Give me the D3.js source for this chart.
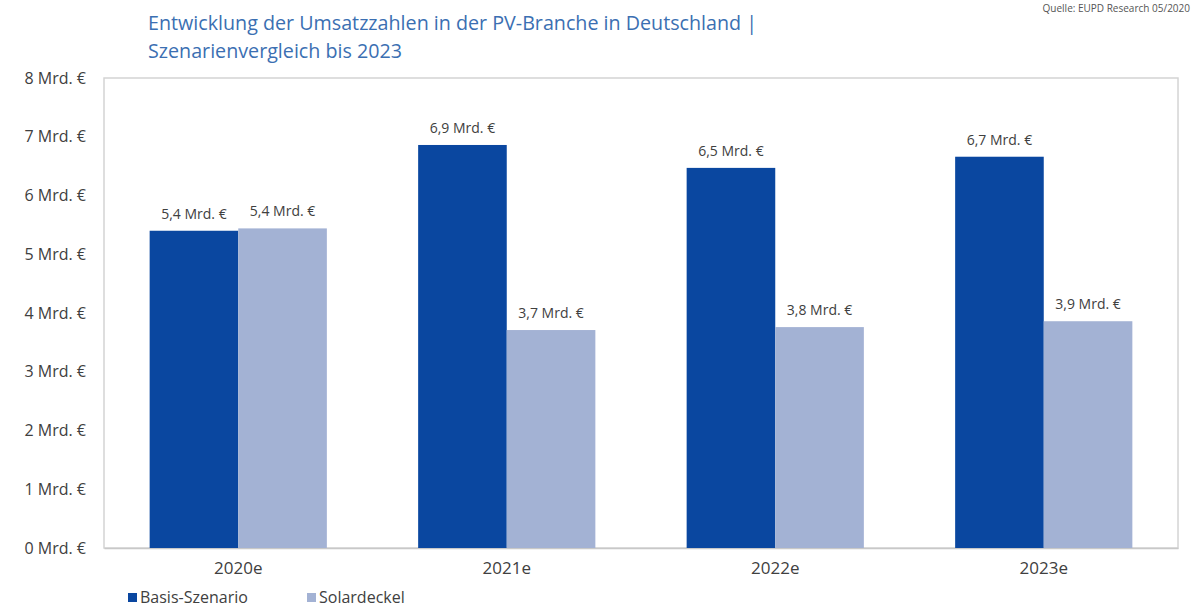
<!DOCTYPE html>
<html>
<head>
<meta charset="utf-8">
<script src="https://d3js.org/d3.v7.min.js"></script>
<style>
  body { margin: 0; background: #fff; }
  svg { display: block; font-family: "Open Sans", sans-serif; }
</style>
</head>
<body>
<div id="chart"></div>
<script>
// data
const years = ["2020e", "2021e", "2022e", "2023e"];
const seriesNames = ["Basis-Szenario", "Solardeckel"];
const basis = [5.40, 6.86, 6.47, 6.66];
const solardeckel = [5.44, 3.71, 3.76, 3.86];
const yTicks = [0, 1, 2, 3, 4, 5, 6, 7, 8];
const colors = ["#0a47a0", "#a3b2d4"];

const W = 1198, H = 614;
const margin = {top: 78, right: 20, bottom: 66, left: 104};

const svg = d3.select("#chart")
    .append("svg")
    .attr("width", W)
    .attr("height", H);

const x0 = d3.scaleBand()
    .domain(years)
    .range([margin.left, W - margin.right])
    .paddingInner(0.34)
    .paddingOuter(0.17);

const x1 = d3.scaleBand()
    .domain(seriesNames)
    .range([0, x0.bandwidth()]);

const y = d3.scaleLinear()
    .domain([0, 8])
    .range([H - margin.bottom, margin.top]);

// plot frame
svg.append("rect")
    .attr("x", margin.left)
    .attr("y", margin.top)
    .attr("width", W - margin.right - margin.left)
    .attr("height", H - margin.bottom - margin.top)
    .attr("fill", "none")
    .attr("stroke", "#d4d4d4")
    .attr("stroke-width", 1.5);

// y axis labels
const yAxis = svg.append("g")
    .attr("transform", `translate(${margin.left},0)`)
    .call(d3.axisLeft(y).tickValues(yTicks).tickSize(0).tickPadding(18)
        .tickFormat(d => d + " Mrd. €"))
    .attr("font-family", null);
yAxis.select(".domain").remove();
yAxis.selectAll("text")
    .style("font-size", "16px")
    .attr("fill", "#404040");

// x axis
const xAxis = svg.append("g")
    .attr("transform", `translate(0,${H - margin.bottom})`)
    .call(d3.axisBottom(x0).tickSize(0).tickPadding(14))
    .attr("font-family", null);
xAxis.select(".domain").attr("stroke", "#c8c8c8").attr("stroke-width", 1.5);
xAxis.selectAll("text")
    .style("font-size", "17px")
    .attr("fill", "#404040");

const rows = years.map((yr, i) => ({year: yr, values: [
    {key: seriesNames[0], value: basis[i]},
    {key: seriesNames[1], value: solardeckel[i]}
]}));

const groups = svg.append("g")
    .selectAll("g")
    .data(rows)
    .join("g")
    .attr("transform", d => `translate(${x0(d.year)},0)`);

groups.selectAll("rect")
    .data(d => d.values)
    .join("rect")
    .attr("x", d => x1(d.key))
    .attr("y", d => y(d.value))
    .attr("width", x1.bandwidth())
    .attr("height", d => y(0) - y(d.value))
    .attr("fill", (d, i) => colors[i]);

groups.selectAll("text.lbl")
    .data(d => d.values)
    .join("text")
    .attr("class", "lbl")
    .attr("x", d => x1(d.key) + x1.bandwidth() / 2)
    .attr("y", d => y(d.value) - 12)
    .attr("text-anchor", "middle")
    .style("font-size", "14px")
    .attr("fill", "#404040")
    .text(d => d.value.toFixed(1).replace(".", ",") + " Mrd. €");

// title
const title = svg.append("text")
    .attr("x", 148)
    .attr("fill", "#3b6fb2")
    .style("font-size", "19.7px");
title.append("tspan").attr("x", 148).attr("y", 30)
    .text("Entwicklung der Umsatzzahlen in der PV-Branche in Deutschland |");
title.append("tspan").attr("x", 148).attr("y", 58)
    .text("Szenarienvergleich bis 2023");

svg.append("text")
    .attr("x", 1190)
    .attr("y", 12)
    .attr("text-anchor", "end")
    .attr("fill", "#555")
    .style("font-size", "10px")
    .text("Quelle: EUPD Research 05/2020");

// legend
const legend = svg.append("g")
    .selectAll("g")
    .data(seriesNames)
    .join("g")
    .attr("transform", (d, i) => `translate(${[128, 307][i]},603)`);
legend.append("rect")
    .attr("x", 0).attr("y", -10)
    .attr("width", 9).attr("height", 9)
    .attr("fill", (d, i) => colors[i]);
legend.append("text")
    .attr("x", 12).attr("y", 0)
    .attr("fill", "#404040")
    .style("font-size", "16px")
    .text(d => d);
</script>
</body>
</html>
